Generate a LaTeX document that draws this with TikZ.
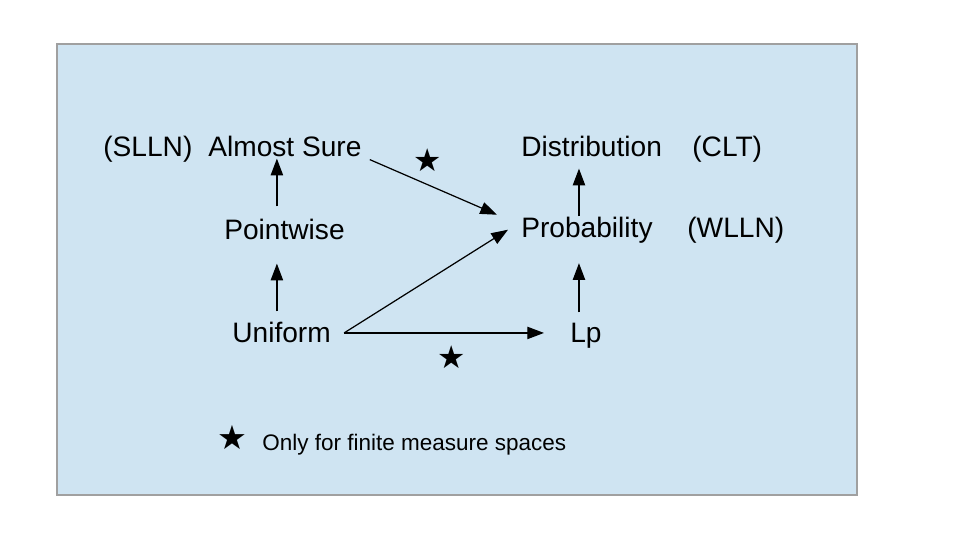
\documentclass[tikz,border=0pt]{standalone}
\usepackage{fontspec}
\setmainfont{Liberation Sans}
\newfontfamily\symfont{DejaVu Sans}
\usetikzlibrary{arrows.meta, calc}

\begin{document}
\begin{tikzpicture}[x=0.02cm, y=-0.02cm,
    lbl/.style={inner sep=0pt, anchor=base west, font=\fontsize{16}{19}\selectfont},
    note/.style={inner sep=0pt, anchor=base west, font=\fontsize{12.8}{15}\selectfont},
    starnote/.style={inner sep=0pt, font=\symfont\fontsize{18}{21}\selectfont},
    arrow/.style={-{Triangle[length=9.5pt, width=7pt]}, line width=0.7pt}]

    % Define colors
    \definecolor{panelcolor}{RGB}{207,228,242}
    \definecolor{panelborder}{RGB}{160,160,160}

    \useasboundingbox (0,0) rectangle (961,546);
    \draw[panelborder, fill=panelcolor, line width=0.8pt] (57,44) rectangle (857,495);

    % Nodes
    \node[lbl] (slln) at (103,157) {(SLLN)};
    \node[lbl] (almost) at (208,157) {Almost Sure};
    \node[lbl] (distribution) at (521,157) {Distribution};
    \node[lbl] (clt) at (692,157) {(CLT)};
    \node[lbl] (pointwise) at (224,240) {Pointwise};
    \node[lbl] (probability) at (521,238) {Probability};
    \node[lbl] (wlln) at (687,238) {(WLLN)};
    \node[lbl] (uniform) at (232,343) {Uniform};
    \node[lbl] (lp) at (570,343) {Lp};

    % Stars and legend
    \node[starnote] (staras) at (428,160) {★};
    \node[starnote] (starlp) at (452,357) {★};
    \node[starnote, font=\symfont\fontsize{19}{22}\selectfont] (starkey) at (232,438) {★};
    \node[note] (legend) at (262,451) {Only for finite measure spaces};

    % Arrows
    \draw[arrow] ($(pointwise.north -| almost.south)+(-8,-13)$) -- ($(almost.south)+(-8,1)$);
    \draw[arrow] ($(uniform.north -| almost.south)+(-8,-11)$) -- ($(pointwise.south -| almost.south)+(-8,23)$);
    \draw[arrow] ($(almost.south east)+(8,2)$) -- ($(probability.west)+(-24,-16)$);
    \draw[arrow] ($(uniform.east)+(13,0)$) -- ($(probability.west)+(-13,-1)$);
    \draw[arrow] ($(uniform.east)+(13,0)$) -- ($(lp.west |- uniform.east)+(-26,0)$);
    \draw[arrow] ($(lp.north -| probability.south)+(-8,-11)$) -- ($(probability.south)+(-8,19)$);
    \draw[arrow] ($(probability.north)+(-8,-1)$) -- ($(distribution.south -| probability.north)+(-8,11)$);

\end{tikzpicture}
\end{document}
